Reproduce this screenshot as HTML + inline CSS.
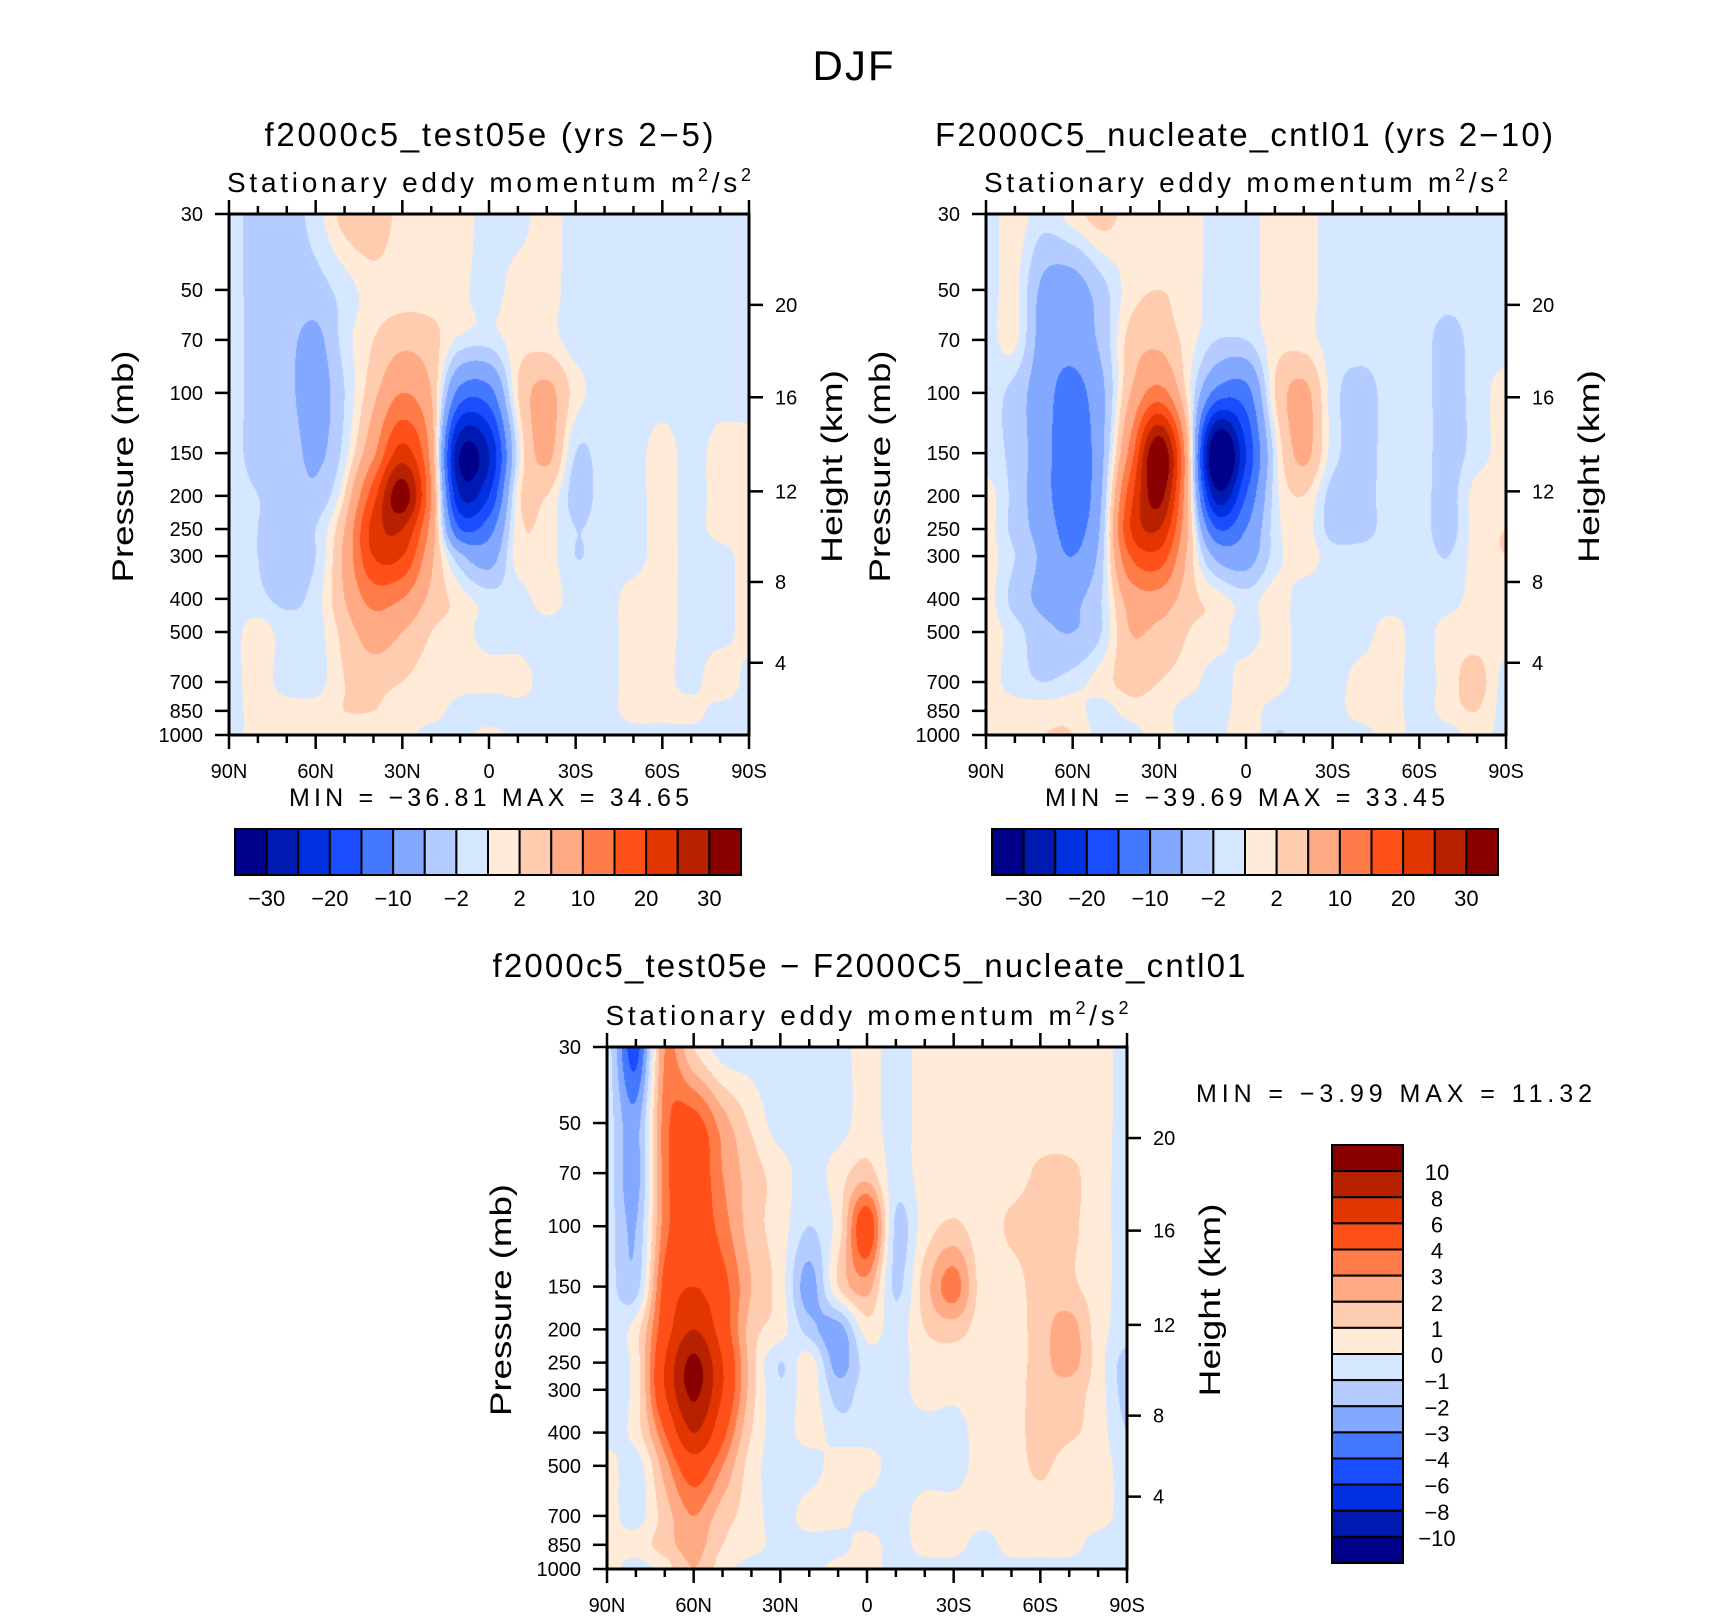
<!DOCTYPE html>
<html><head><meta charset="utf-8">
<style>
html,body{margin:0;padding:0;background:#fff;}
#page{position:relative;width:1710px;height:1617px;overflow:hidden;background:#fff;}
canvas{position:absolute;}
svg{position:absolute;left:0;top:0;}
text{font-family:"Liberation Sans",sans-serif;fill:#000;}
</style></head>
<body>
<div id="page">
<canvas id="cA"></canvas>
<canvas id="cB"></canvas>
<canvas id="cC"></canvas>
<svg id="svg" width="1710" height="1617"></svg>
</div>
<script>
// ---- data ----
const lats=[90,80,70,60,50,40,30,20,10,0,-10,-20,-30,-40,-50,-60,-70,-80,-90];
const pLevels=[30,50,70,100,150,200,250,300,400,500,700,850,1000];
const fieldA=[
[-1,-3,-3,-1,3,4,1,1,1,-1,-1,1,-1,-1,-1,-1,-1,-1,-1],
[-1,-3,-3,-3,-1,1,1,1,0.5,-1,1,1,-1,-1,-1,-1,-1,-1,-1],
[-1,-3,-4,-6,-1,2,4,3,-0.5,-1,1,1,-1,-1,-1,-1,-1,-1,-1],
[-1,-3,-4,-7,-2,4,10,5,-12,-12,2,6,1,-1,-1,-1,-1,-1,-1],
[-1,-3,-3,-6,-1,9,22,8,-30,-25,-1,6,-2,-1,-1,1,-1,1,1],
[-1,-2,-3,-4,2,18,33,10,-25,-20,1,2,-3,-1,-1,1,-1,1,1],
[-1,-2,-3,-2,5,22,25,8,-15,-12,1,1,-2,-1,-1,1,-1,1,1],
[-1,-2,-3,-2,6,20,20,6,-4,-7,1,1,-2,-1,-1,1,-1,-1,1],
[-1,-1.5,-2.5,-1,5,12,10,4,1,-1,-1,1,-1,-1,1,1,-1,-1,1],
[-1,1,-1,-1,3,7,5,2,1,-1,-1,-1,-1,-1,1,1,-1,-1,1],
[-1,1,-1,-1,2,3,2,1,1,1,1,-1,-1,-1,1,1,-1,2,-1],
[-1,1,1,1,2,2,1,1,-1,-2,-1,-1,-1,-1,1,1,1,-1,-1],
[-1,1,1,2,1,1,1,-1,-1,1,-1,-1,-1,-1,-1,-1,-1,-1,-1]
];
const fieldB=[
[-1,1,-1,1,3,1,1,1,-1,-1,1,1,-1,-1,-1,-1,-1,-1,-1],
[-1,0.5,-6,-7,-3,1,2,1,-1,-1,1,1,-1,-1,-1,-1,-1,-1,-1],
[-1,0.5,-7,-8,-4,3,4,1,-2,-2,1,1,-1,-1,-1,-1,-3,-1,-1],
[-1,-3,-8,-12,-6,5,12,1,-12,-12,2,6,-1,-3,-1,-1,-3,-1,1],
[-1,-3,-8,-14,-6,12,35,5,-38,-20,-1,6,-1,-3,-1,-1,-3,-1,1],
[1,-3,-8,-14,-5,18,32,5,-28,-15,-1,2,-3,-3,-1,-1,-3,1,1],
[1,-3,-7,-12,-4,20,25,5,-15,-10,-1,1,-3,-3,-1,-1,-3,1,2],
[1,-2,-6,-10,-3,15,18,4,-6,-7,-1,1,-1,-1,-1,-1,-2,1,2],
[1,-3,-6,-6,-2,7,8,3,1,-1,1,-1,-1,-1,-1,-1,-1,1,1],
[1,-1,-4,-5,-2,5,4,2,1,-1,1,-1,-1,-1,1,-1,1,1,1],
[1,-1,-2,-1,1,3,2,1,-1,1,1,-1,-1,1,1,-1,1,3,-1],
[1,1,1,1,-1,1,1,-1,-1,1,-1,-2,-1,1,1,-1,1,2,-1],
[1,1,2,2,-1,-1,1,-1,-1,2,-2,-1,-1,-1,1,-1,-1,1,-1]
];
const fieldC=[
[-0.5,-4.5,3,1,-0.5,-0.5,-0.5,-0.5,-0.5,0.5,-0.5,0.5,0.5,0.5,0.5,0.5,0.5,0.5,-0.5],
[-0.5,-2.5,3.5,4.5,2.5,0.8,-0.5,-0.5,-0.5,0.5,-0.5,0.5,0.5,0.5,0.5,0.5,0.5,0.5,-0.5],
[-0.5,-2.5,3.5,5,3,1.5,0.5,-0.5,0.5,1.5,-0.5,0.5,0.5,0.5,0.5,1.2,1.2,0.5,-0.5],
[-0.5,-2,3.5,5,3.5,1.5,0.5,-1,0.5,5,-1.2,0.5,1.2,0.5,1.2,1.5,1.2,0.5,-0.5],
[-0.5,-1.5,4.5,6,4.5,2,0.5,-2.5,1,2.5,-1.2,1.5,3.5,0.5,0.5,1.5,1.2,0.5,-0.5],
[-0.5,0.5,5,8,5,1.5,0.5,-1.5,-2.5,0.5,-0.5,1,1.5,0.5,0.5,1.5,2.5,0.5,-0.5],
[-0.5,0.5,6,10.5,6,1.5,-1,0.5,-2.5,-0.5,-0.5,0.5,0.5,0.5,0.5,1.5,2.5,0.5,-1.5],
[-0.5,0.5,6,10.5,6,1.5,-0.8,0.5,-1.5,-0.5,-0.5,0.5,0.3,0.5,0.5,1.5,1.5,0.5,-1.5],
[-0.5,0.5,4,8,4.5,1,-0.5,0.5,-0.5,-0.5,-0.5,-0.5,-0.5,0.5,0.5,1.5,1.2,0.5,-1],
[0.5,-0.5,2.5,5,3,0.5,-0.5,-0.5,0.5,0.5,-0.5,-0.5,-0.5,0.5,0.5,1.2,0.5,0.5,-0.5],
[0.5,-0.5,1.5,3,1.5,0.5,-0.5,0.5,0.5,-0.5,-0.5,0.5,0.5,0.5,0.5,0.5,0.5,0.5,-0.5],
[0.5,0.5,1.5,2.5,1,0.5,-0.5,-0.5,-0.5,0.5,-0.5,0.5,0.5,-0.5,0.5,0.5,0.5,-0.5,-0.5],
[0.5,-0.5,0.5,2,0.5,-0.5,-0.5,-0.5,0.5,0.5,-0.5,-0.5,-0.5,-0.5,-0.5,-0.5,-0.5,-0.5,-0.5]
];
const boundsAB=[-30,-25,-20,-15,-10,-5,-2,0,2,5,10,15,20,25,30];
const boundsC=[-10,-8,-6,-4,-3,-2,-1,0,1,2,3,4,6,8,10];
const labelsAB=['−30','−20','−10','−2','2','10','20','30'];
const labelsC=['10','8','6','4','3','2','1','0','−1','−2','−3','−4','−6','−8','−10'];
const palette=['#00008A','#0019B0','#0030E0','#1A4DFF','#4479FF','#82A8FF','#B4CCFF','#D6E8FF','#FFEBD8','#FFCCB0','#FFAA84','#FF7B48','#FF501A','#E23500','#B82100','#8A0000'];
const xTickLats=[90,60,30,0,-30,-60,-90];
const xTickLabels=['90N','60N','30N','0','30S','60S','90S'];
const pTickLabels=['30','50','70','100','150','200','250','300','400','500','700','850','1000'];
const heightTicks=['20','16','12','8','4'];
const heightTickPressures=[55.3,103,194,357,615];

// ---- helpers ----
const NS='http://www.w3.org/2000/svg';
const svg=document.getElementById('svg');
function mk(tag,attrs,parent){const e=document.createElementNS(NS,tag);for(const k in attrs)e.setAttribute(k,attrs[k]);(parent||svg).appendChild(e);return e;}
function txt(s,x,y,size,anchor,parent){const t=mk('text',{x:x,y:y,'font-size':size,'text-anchor':anchor||'middle'},parent);t.textContent=s;return t;}
function hexRgb(h){return [parseInt(h.substr(1,2),16),parseInt(h.substr(3,2),16),parseInt(h.substr(5,2),16)];}
const palRgb=palette.map(hexRgb);
const PMIN=30,PMAX=1000;
function yOfP(p,y0,h){return y0+h*Math.log(p/PMIN)/Math.log(PMAX/PMIN);}
function xOfLat(l,x0,w){return x0+w*(90-l)/180;}

function cr(p0,p1,p2,p3,t){
  return p1+0.5*t*(p2-p0+t*(2*p0-5*p1+4*p2-p3+t*(3*(p1-p2)+p3-p0)));
}
function sample(field,fx,fy){
  const nx=lats.length,ny=pLevels.length;
  const i0=Math.min(Math.floor(fx),nx-2),tx=fx-i0;
  const j0=Math.min(Math.floor(fy),ny-2),ty=fy-j0;
  const cl=(v,n)=>Math.max(0,Math.min(n-1,v));
  const rows=[];
  for(let dj=-1;dj<=2;dj++){
    const r=field[cl(j0+dj,ny)];
    rows.push(cr(r[cl(i0-1,nx)],r[i0],r[i0+1],r[cl(i0+2,nx)],tx));
  }
  return cr(rows[0],rows[1],rows[2],rows[3],ty);
}
function colorIdx(v,bounds){let k=0;while(k<bounds.length&&v>=bounds[k])k++;return k;}

function drawField(id,field,bounds,x0,y0,w,h){
  const cv=document.getElementById(id);
  cv.width=w;cv.height=h;cv.style.left=x0+'px';cv.style.top=y0+'px';
  const ctx=cv.getContext('2d');const img=ctx.createImageData(w,h);
  const logP=pLevels.map(Math.log);
  const fyRow=[];
  for(let py=0;py<h;py++){
    const p=Math.log(PMIN)+(py+0.5)/h*(Math.log(PMAX)-Math.log(PMIN));
    let j=0;while(j<logP.length-2&&p>logP[j+1])j++;
    fyRow.push(j+Math.max(0,Math.min(1,(p-logP[j])/(logP[j+1]-logP[j]))));
  }
  for(let py=0;py<h;py++){
    for(let px=0;px<w;px++){
      const fx=(px+0.5)/w*(lats.length-1);
      const v=sample(field,fx,fyRow[py]);
      const c=palRgb[colorIdx(v,bounds)];
      const o=(py*w+px)*4;img.data[o]=c[0];img.data[o+1]=c[1];img.data[o+2]=c[2];img.data[o+3]=255;
    }
  }
  ctx.putImageData(img,0,0);
}

function drawAxes(name,x0,y0,w,h,o){
  const g=mk('g',{});
  
  
  for(let l=90;l>=-90;l-=10){
    const x=xOfLat(l,x0,w);const major=(l%30===0);const L=major?14:8;
    const tb=mk('line',{x1:x,y1:y0+h,x2:x,y2:y0+h+L,stroke:'#000','stroke-width':2.5},g);
    
    
    const tt=mk('line',{x1:x,y1:y0,x2:x,y2:y0-L,stroke:'#000','stroke-width':2.5},g);
    
    
  }
  xTickLats.forEach((l,i)=>{
    const t=txt(xTickLabels[i],xOfLat(l,x0,w),y0+h+43,20,'middle',g);
    
    
  });
  pLevels.forEach((p,i)=>{
    const y=yOfP(p,y0,h);
    const tk=mk('line',{x1:x0-14,y1:y,x2:x0,y2:y,stroke:'#000','stroke-width':2.5},g);
    
    
    const t=txt(pTickLabels[i],x0-26,y+7,20,'end',g);
    
    
  });
  heightTickPressures.forEach((p,i)=>{
    const y=yOfP(p,y0,h);
    const tk=mk('line',{x1:x0+w,y1:y,x2:x0+w+14,y2:y,stroke:'#000','stroke-width':2.5},g);
    
    
    const t=txt(heightTicks[i],x0+w+26,y+7,20,'start',g);
    
    
  });
  const fr=mk('rect',{x:x0,y:y0,width:w,height:h,fill:'none',stroke:'#000','stroke-width':3},g);
  
  
  const cy=y0+h*0.5;
  const pt=mk('text',{x:0,y:0,'font-size':30,'text-anchor':'middle',transform:'translate('+(x0-96)+','+(cy-8)+') rotate(-90)',textLength:232,lengthAdjust:'spacingAndGlyphs'},g);
  pt.textContent='Pressure (mb)';
  
  
  const ht=mk('text',{x:0,y:0,'font-size':30,'text-anchor':'middle',transform:'translate('+(x0+w+93)+','+(cy-8)+') rotate(-90)',textLength:193,lengthAdjust:'spacingAndGlyphs'},g);
  ht.textContent='Height (km)';
  
  
  const st=mk('text',{x:x0+w/2,y:y0-22,'font-size':28,'text-anchor':'middle',textLength:o.subW,lengthAdjust:'spacing'},g);
  
  
  st.appendChild(document.createTextNode('Stationary eddy momentum m'));
  const s1=mk('tspan',{dy:-11,'font-size':18},st);s1.textContent='2';
  const s2=mk('tspan',{dy:11},st);s2.textContent='/s';
  const s3=mk('tspan',{dy:-11,'font-size':18},st);s3.textContent='2';
  const ti=mk('text',{x:o.titleX,y:o.titleY,'font-size':33,'text-anchor':'middle',textLength:o.titleW,lengthAdjust:'spacing'},g);
  ti.textContent=o.title;
  
  
}

function hColorbar(name,x0,y0,w,h,labels){
  const g=mk('g',{});
  
  
  const bw=w/palette.length;
  palette.forEach((c,i)=>{
    const r=mk('rect',{x:x0+i*bw,y:y0,width:bw,height:h,fill:c,stroke:'#000','stroke-width':2},g);
    
    
  });
  labels.forEach((s,k)=>{
    const t=txt(s,x0+(2*k+1)*bw,y0+h+31,22,'middle',g);
    
    
  });
}
function vColorbar(name,x0,y0,w,h,labels){
  const g=mk('g',{});
  
  
  const bh=h/palette.length;
  palette.slice().reverse().forEach((c,i)=>{
    const r=mk('rect',{x:x0,y:y0+i*bh,width:w,height:bh,fill:c,stroke:'#000','stroke-width':2},g);
    
    
  });
  labels.forEach((s,k)=>{
    const t=txt(s,x0+w+34,y0+(k+1)*bh+9,22,'middle',g);
    
    
  });
}

const PA={x:229,y:214,w:520,h:521}, PB={x:986,y:214,w:520,h:521}, PC={x:607,y:1047,w:520,h:522};
drawField('cA',fieldA,boundsAB,PA.x,PA.y,PA.w,PA.h);
drawField('cB',fieldB,boundsAB,PB.x,PB.y,PB.w,PB.h);
drawField('cC',fieldC,boundsC,PC.x,PC.y,PC.w,PC.h);

const djf=txt('DJF',853,80,42,'middle');


djf.setAttribute('textLength','81');

drawAxes('panel-test05e',PA.x,PA.y,PA.w,PA.h,{title:'f2000c5_test05e (yrs 2−5)',titleX:489,titleY:146,titleW:449,subW:524});
drawAxes('panel-cntl01',PB.x,PB.y,PB.w,PB.h,{title:'F2000C5_nucleate_cntl01 (yrs 2−10)',titleX:1244,titleY:146,titleW:618,subW:524});
drawAxes('panel-difference',PC.x,PC.y,PC.w,PC.h,{title:'f2000c5_test05e − F2000C5_nucleate_cntl01',titleX:869,titleY:977,titleW:753,subW:523});

const mA=mk('text',{x:489,y:806,'font-size':25,'text-anchor':'middle',textLength:400,lengthAdjust:'spacing'});
mA.textContent='MIN = −36.81   MAX =  34.65';


const mB=mk('text',{x:1245,y:806,'font-size':25,'text-anchor':'middle',textLength:400,lengthAdjust:'spacing'});
mB.textContent='MIN = −39.69   MAX =  33.45';


const mC=mk('text',{x:1196,y:1102,'font-size':25,'text-anchor':'start',textLength:396,lengthAdjust:'spacing'});
mC.textContent='MIN =  −3.99   MAX =  11.32';



hColorbar('colorbar-test05e',235,829,506,46,labelsAB);
hColorbar('colorbar-cntl01',992,829,506,46,labelsAB);
vColorbar('colorbar-difference',1332,1145,71,418,labelsC);
</script>
</body></html>
